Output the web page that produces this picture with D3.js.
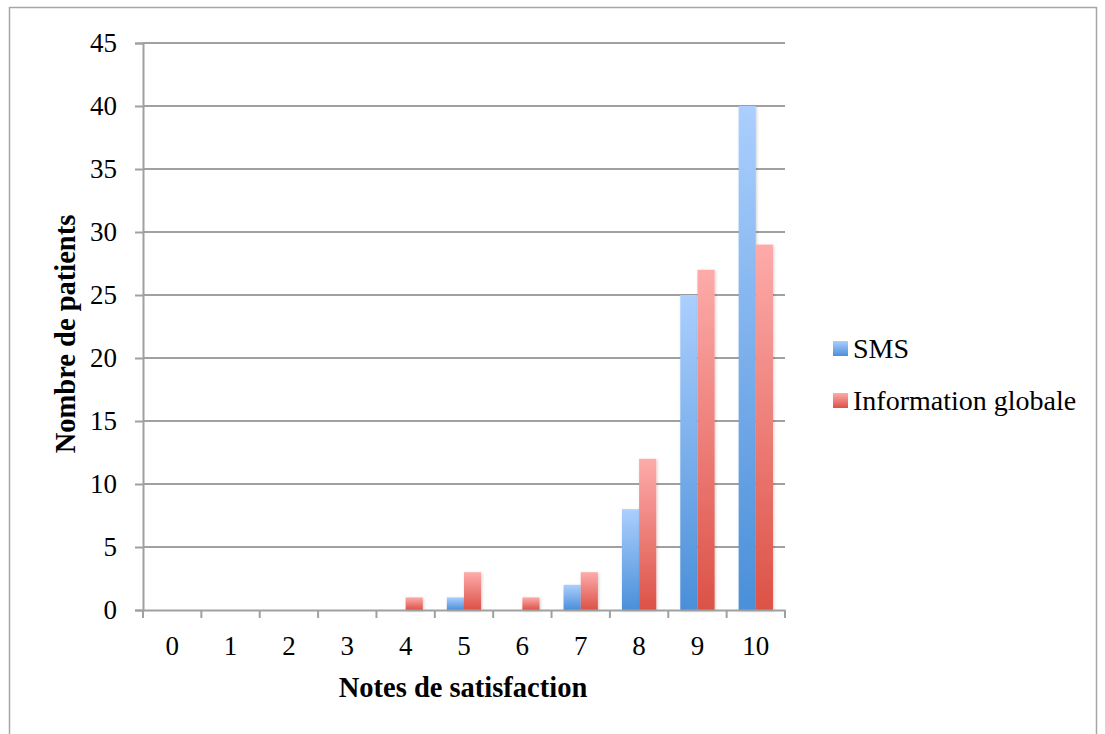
<!DOCTYPE html>
<html><head><meta charset="utf-8">
<script src="https://cdn.jsdelivr.net/npm/d3@7"></script>
<style>body{margin:0;background:#fff;}svg{display:block;}</style>
</head><body>
<svg id="chart" width="1105" height="734"></svg>
<script>
const categories = ["0","1","2","3","4","5","6","7","8","9","10"];
const seriesNames = ["SMS","Information globale"];
const smsValues = [0,0,0,0,0,1,0,2,8,25,40];
const infoValues = [0,0,0,0,1,3,1,3,12,27,29];
const yTicks = [0,5,10,15,20,25,30,35,40,45];

const svg = d3.select("#chart");
const font = "'Liberation Serif', serif";
const m = {left:143, right:785, top:43, bottom:610};

const defs = svg.append("defs");
const grads = [["gSMS","#abcffe","#4a8fd9"],["gInfo","#fdabaa","#dc5247"]];
grads.forEach(([id,c1,c2])=>{
  const g = defs.append("linearGradient").attr("id",id).attr("x1",0).attr("y1",0).attr("x2",0).attr("y2",1);
  g.append("stop").attr("offset","0%").attr("stop-color",c1);
  g.append("stop").attr("offset","100%").attr("stop-color",c2);
});
const f = defs.append("filter").attr("id","sh").attr("x","-30%").attr("y","-10%").attr("width","160%").attr("height","130%");
f.append("feDropShadow").attr("dx",1).attr("dy",1).attr("stdDeviation",1.5).attr("flood-color","#000").attr("flood-opacity",0.18);

// outer border
svg.append("rect").attr("x",9.5).attr("y",7.5).attr("width",1087).attr("height",740)
  .attr("fill","none").attr("stroke","#a6a6a6").attr("stroke-width",1.5);

const x = d3.scaleBand().domain(categories).range([m.left,m.right]).padding(0);
const y = d3.scaleLinear().domain([0,45]).range([m.bottom,m.top]);
const xs = d3.scaleBand().domain(seriesNames).range([0,x.bandwidth()]).paddingInner(0).paddingOuter(0.7);

// gridlines
svg.append("g").selectAll("line").data(yTicks.filter(d=>d>0)).join("line")
  .attr("x1",m.left).attr("x2",m.right).attr("y1",d=>y(d)).attr("y2",d=>y(d))
  .attr("stroke","#a0a0a0").attr("stroke-width",2);

// bars
const data = categories.map((c,i)=>({c, vals:[smsValues[i],infoValues[i]]}));
const groups = svg.append("g").selectAll("g").data(data).join("g")
  .attr("transform",d=>`translate(${x(d.c)},0)`);
groups.selectAll("rect").data(d=>d.vals.map((v,j)=>({v,s:seriesNames[j],j}))).join("rect")
  .filter(d=>d.v>0)
  .attr("x",d=>xs(d.s)).attr("width",xs.bandwidth())
  .attr("y",d=>y(d.v)).attr("height",d=>y(0)-y(d.v))
  .attr("fill",d=>d.j===0?"url(#gSMS)":"url(#gInfo)")
  .attr("filter","url(#sh)");

// y axis
const yAxis = svg.append("g").attr("transform",`translate(${m.left},0)`)
  .call(d3.axisLeft(y).tickValues(yTicks).tickSize(8).tickPadding(18).tickFormat(d3.format("d")));
yAxis.select(".domain").attr("stroke","#a0a0a0").attr("stroke-width",2);
yAxis.selectAll(".tick line").attr("stroke","#a0a0a0").attr("stroke-width",2);
yAxis.selectAll("text").attr("font-family",font).attr("font-size",27).attr("fill","#000");

// x axis
const xAxis = svg.append("g").attr("transform",`translate(0,${m.bottom})`)
  .call(d3.axisBottom(x).tickSize(0).tickPadding(26));
xAxis.select(".domain").attr("stroke","#a0a0a0").attr("stroke-width",2);
xAxis.selectAll("text").attr("font-family",font).attr("font-size",27).attr("fill","#000");
svg.append("g").selectAll("line").data(d3.range(categories.length+1)).join("line")
  .attr("x1",i=>m.left+i*x.step()).attr("x2",i=>m.left+i*x.step())
  .attr("y1",m.bottom).attr("y2",m.bottom+8).attr("stroke","#a0a0a0").attr("stroke-width",2);

// titles
svg.append("text").attr("x",463).attr("y",697).attr("text-anchor","middle")
  .attr("font-family",font).attr("font-weight","bold").attr("font-size",28.5).text("Notes de satisfaction");
svg.append("text").attr("transform","translate(75,334) rotate(-90)").attr("text-anchor","middle")
  .attr("font-family",font).attr("font-weight","bold").attr("font-size",28.5).text("Nombre de patients");

// legend
const leg = svg.append("g").selectAll("g").data(seriesNames).join("g")
  .attr("transform",(d,i)=>`translate(833,${341+i*52})`);
leg.append("rect").attr("width",15).attr("height",15).attr("fill",(d,i)=>i===0?"url(#gSMS)":"url(#gInfo)");
leg.append("text").attr("x",20).attr("y",17).attr("font-family",font).attr("font-size",28).text(d=>d);
</script>
</body></html>
